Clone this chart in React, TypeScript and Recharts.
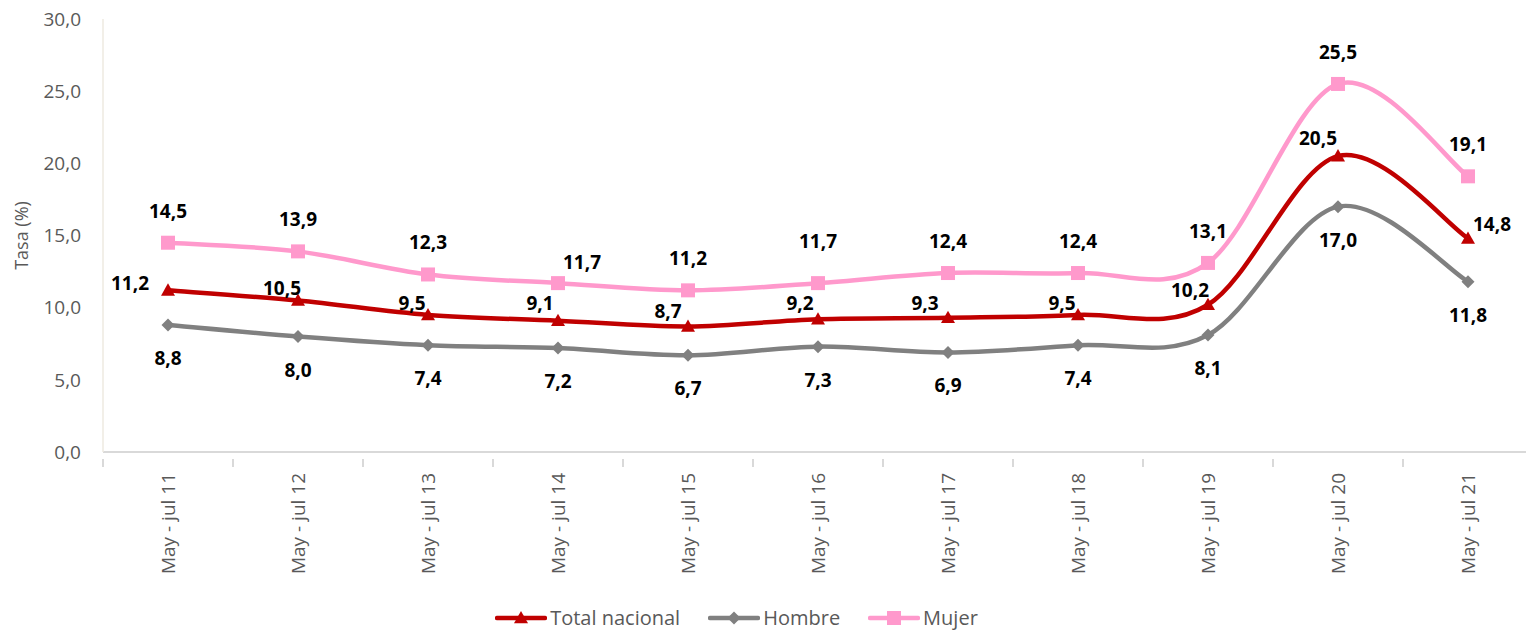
import React from 'react'
import {
  LineChart,
  Line,
  XAxis,
  YAxis,
  Legend,
} from 'recharts'

const categories = [
  'May - jul 11',
  'May - jul 12',
  'May - jul 13',
  'May - jul 14',
  'May - jul 15',
  'May - jul 16',
  'May - jul 17',
  'May - jul 18',
  'May - jul 19',
  'May - jul 20',
  'May - jul 21',
]
const totalNacional = [11.2, 10.5, 9.5, 9.1, 8.7, 9.2, 9.3, 9.5, 10.2, 20.5, 14.8]
const hombre = [8.8, 8.0, 7.4, 7.2, 6.7, 7.3, 6.9, 7.4, 8.1, 17.0, 11.8]
const mujer = [14.5, 13.9, 12.3, 11.7, 11.2, 11.7, 12.4, 12.4, 13.1, 25.5, 19.1]
const yTicks = [0, 5, 10, 15, 20, 25, 30]

const data = categories.map((c, i) => ({
  cat: c,
  total: totalNacional[i],
  hombre: hombre[i],
  mujer: mujer[i],
}))

// label nudges (Excel labels were moved by hand in a few spots)
const totalLabelOffsets: [number, number][] = [
  [-38, -7], [-16, -12], [-16, -12], [-18, -18], [-20, -15], [-18, -16],
  [-23, -15], [-16, -12], [-18, -15], [-20, -18], [24, -14],
]
const hombreLabelOffsets: [number, number][] = categories.map(() => [0, 33])
const mujerLabelOffsets: [number, number][] = categories.map((_, i) =>
  i === 3 ? [24, -21] : i === 5 ? [0, -42] : [0, -32]
)

const RED = '#C00000'
const GRAY = '#808080'
const PINK = '#FF99CC'
const FONT = '"Open Sans", "Segoe UI", sans-serif'

const W = 1533
const H = 631
const LEFT = 103
const N = categories.length
const BAND = (W - LEFT) / N

const fmt = (v: number) => v.toFixed(1).replace('.', ',')

// Excel style smoothing: bezier with control points at 1/6 of neighbour deltas
function excelCurve(context: any) {
  let pts: [number, number][] = []
  return {
    areaStart() {},
    areaEnd() {},
    lineStart() {
      pts = []
    },
    point(x: number, y: number) {
      pts.push([+x, +y])
    },
    lineEnd() {
      const n = pts.length
      if (!n) return
      context.moveTo(pts[0][0], pts[0][1])
      for (let i = 0; i < n - 1; i++) {
        const p0 = pts[Math.max(i - 1, 0)]
        const p1 = pts[i]
        const p2 = pts[i + 1]
        const p3 = pts[Math.min(i + 2, n - 1)]
        context.bezierCurveTo(
          p1[0] + (p2[0] - p0[0]) / 6,
          p1[1] + (p2[1] - p0[1]) / 6,
          p2[0] - (p3[0] - p1[0]) / 6,
          p2[1] - (p3[1] - p1[1]) / 6,
          p2[0],
          p2[1]
        )
      }
    },
  }
}

const Triangle = ({ cx, cy, size = 14, color = RED }: any) => (
  <path
    d={`M${cx},${cy - size * 0.5}L${cx + size / 2},${cy + size * 0.38}L${cx - size / 2},${cy + size * 0.38}Z`}
    fill={color}
  />
)
const Diamond = ({ cx, cy, size = 13, color = GRAY }: any) => (
  <path
    d={`M${cx},${cy - size / 2}L${cx + size / 2},${cy}L${cx},${cy + size / 2}L${cx - size / 2},${cy}Z`}
    fill={color}
  />
)
const Square = ({ cx, cy, size = 14, color = PINK }: any) => (
  <rect x={cx - size / 2} y={cy - size / 2} width={size} height={size} fill={color} />
)

const makeLabel = (offsets: [number, number][]) => (props: any) => {
  const { x, y, value, index } = props
  const [dx, dy] = offsets[index] || [0, 0]
  return (
    <text
      x={x + dx}
      y={y + dy}
      textAnchor="middle"
      dominantBaseline="central"
      fontFamily={FONT}
      fontSize={19}
      fontWeight={700}
      fill="#000"
    >
      {fmt(value)}
    </text>
  )
}

const XTick = (props: any) => {
  const { x, y, payload, index } = props
  return (
    <g>
      <line x1={x - BAND / 2} y1={y - 1} x2={x - BAND / 2} y2={y + 7} stroke="#D9D9D9" strokeWidth={2} />
      {index === N - 1 && (
        <line x1={x + BAND / 2} y1={y - 1} x2={x + BAND / 2} y2={y + 7} stroke="#D9D9D9" strokeWidth={2} />
      )}
      <text
        x={x}
        y={y + 13}
        transform={`rotate(-90, ${x}, ${y + 13})`}
        textAnchor="end"
        dominantBaseline="central"
        fontFamily={FONT}
        fontSize={19}
        fill="#595959"
      >
        {payload.value}
      </text>
    </g>
  )
}

const legendItems = [
  { name: 'Total nacional', color: RED, Marker: Triangle },
  { name: 'Hombre', color: GRAY, Marker: Diamond },
  { name: 'Mujer', color: PINK, Marker: Square },
]

const LegendContent = () => (
  <div
    style={{
      display: 'flex',
      justifyContent: 'center',
      alignItems: 'center',
      height: 26,
      lineHeight: '26px',
      paddingRight: 60,
      fontFamily: FONT,
      fontSize: 20,
      color: '#595959',
    }}
  >
    {legendItems.map((it, i) => (
      <div
        key={it.name}
        style={{ display: 'flex', alignItems: 'center', marginLeft: i === 0 ? 0 : 28 }}
      >
        <svg width={52} height={20} style={{ marginRight: 3 }}>
          <line x1={2} y1={10} x2={50} y2={10} stroke={it.color} strokeWidth={4.5} strokeLinecap="round" />
          <it.Marker cx={26} cy={10} color={it.color} />
        </svg>
        <span>{it.name}</span>
      </div>
    ))}
  </div>
)

export default function App() {
  return (
    <div
      style={{
        position: 'fixed',
        left: 0,
        top: 0,
        width: 1526,
        height: 631,
        overflow: 'hidden',
        background: '#fff',
      }}
    >
      <LineChart
        width={W}
        height={H}
        data={data}
        margin={{ top: 19, right: 0, left: 0, bottom: 0 }}
      >
        <XAxis
          dataKey="cat"
          interval={0}
          height={153}
          padding={{ left: BAND / 2, right: BAND / 2 }}
          tickLine={false}
          axisLine={{ stroke: '#D9D9D9', strokeWidth: 2 }}
          tick={<XTick />}
        />
        <YAxis
          width={LEFT}
          domain={[0, 30]}
          ticks={yTicks}
          tickFormatter={fmt}
          tickSize={0}
          tickMargin={22}
          tickLine={false}
          axisLine={{ stroke: '#EEEAE0', strokeWidth: 1.5 }}
          tick={{ fontFamily: FONT, fontSize: 19, fill: '#595959' }}
          label={{
            value: 'Tasa (%)',
            angle: -90,
            position: 'insideLeft',
            offset: 22,
            style: { textAnchor: 'middle', fontFamily: FONT, fontSize: 18, fill: '#595959' },
          }}
        />
        <Legend verticalAlign="bottom" content={<LegendContent />} />
        <Line
          dataKey="mujer"
          name="Mujer"
          type={excelCurve as any}
          stroke={PINK}
          strokeWidth={4.5}
          dot={<Square />}
          activeDot={false}
          label={makeLabel(mujerLabelOffsets)}
          isAnimationActive={false}
        />
        <Line
          dataKey="total"
          name="Total nacional"
          type={excelCurve as any}
          stroke={RED}
          strokeWidth={4.5}
          dot={<Triangle />}
          activeDot={false}
          label={makeLabel(totalLabelOffsets)}
          isAnimationActive={false}
        />
        <Line
          dataKey="hombre"
          name="Hombre"
          type={excelCurve as any}
          stroke={GRAY}
          strokeWidth={4.5}
          dot={<Diamond />}
          activeDot={false}
          label={makeLabel(hombreLabelOffsets)}
          isAnimationActive={false}
        />
      </LineChart>
    </div>
  )
}
